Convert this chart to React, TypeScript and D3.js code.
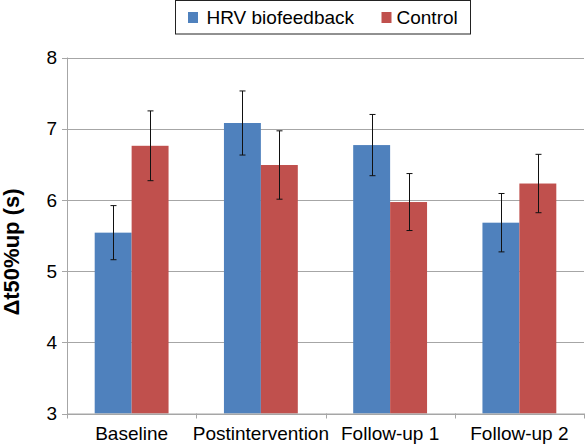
import React from "react";
import * as d3 from "d3";

const categories = ["Baseline", "Postintervention", "Follow-up 1", "Follow-up 2"];
const seriesNames = ["HRV biofeedback", "Control"];
const hrvValues = [5.54, 7.08, 6.77, 5.68];
const hrvErrors = [0.38, 0.45, 0.43, 0.41];
const controlValues = [6.76, 6.49, 5.97, 6.23];
const controlErrors = [0.49, 0.48, 0.4, 0.41];
const yTicks = [3, 4, 5, 6, 7, 8];
const colors = ["#4F81BD", "#C0504D"];

const W = 586;
const H = 444;
const left = 67;
const right = 584;
const top = 57.5;
const bottom = 413.5;
const FONT = "'Liberation Sans', Arial, sans-serif";

export default function App() {
  const x0 = d3.scaleBand<string>().domain(categories).range([left, right]).padding(0);
  const x1 = d3
    .scaleBand<string>()
    .domain(seriesNames)
    .range([0, x0.bandwidth()])
    .paddingInner(0)
    .paddingOuter(0.75);
  const y = d3.scaleLinear().domain([3, 8]).range([bottom, top]);

  const series = [
    { name: seriesNames[0], values: hrvValues, errors: hrvErrors, color: colors[0] },
    { name: seriesNames[1], values: controlValues, errors: controlErrors, color: colors[1] },
  ];

  const boundaries = [...categories.map((c) => x0(c)!), right];

  return (
    <svg
      width={W}
      height={H}
      style={{ position: "absolute", left: 0, top: 0, background: "#fff" }}
      fontFamily={FONT}
    >
      <rect x={0} y={0} width={W} height={H} fill="#fff" />
      {yTicks.map((t) => (
        <line key={"g" + t} x1={left} x2={right} y1={Math.round(y(t)) + 0.5} y2={Math.round(y(t)) + 0.5} stroke="#a6a6a6" strokeWidth={1} />
      ))}
      <line x1={left + 0.5} x2={left + 0.5} y1={top} y2={bottom + 0.5} stroke="#a6a6a6" />
      {yTicks.map((t) => (
        <g key={"yt" + t}>
          <line x1={left - 5} x2={left} y1={Math.round(y(t)) + 0.5} y2={Math.round(y(t)) + 0.5} stroke="#a6a6a6" />
          <text x={57} y={y(t)} dy="0.35em" textAnchor="end" fontSize={19} fill="#000">
            {t}
          </text>
        </g>
      ))}
      {series.map((s) =>
        categories.map((c, i) => {
          const bx = x0(c)! + x1(s.name)!;
          return (
            <rect
              key={s.name + c}
              x={bx}
              y={y(s.values[i])}
              width={x1.bandwidth()}
              height={bottom - y(s.values[i])}
              fill={s.color}
            />
          );
        })
      )}
      <line x1={left} x2={right} y1={bottom + 0.5} y2={bottom + 0.5} stroke="#a6a6a6" />
      {boundaries.map((bx, i) => (
        <line key={"xt" + i} x1={Math.round(bx) + 0.5} x2={Math.round(bx) + 0.5} y1={bottom} y2={bottom + 5} stroke="#a6a6a6" />
      ))}
      {series.map((s) =>
        categories.map((c, i) => {
          const cx = Math.round(x0(c)! + x1(s.name)! + x1.bandwidth() / 2) + 0.5;
          const yt = y(s.values[i] + s.errors[i]);
          const yb = y(s.values[i] - s.errors[i]);
          return (
            <g key={"e" + s.name + c} stroke="#111" strokeWidth={1}>
              <line x1={cx} x2={cx} y1={yt} y2={yb} />
              <line x1={cx - 3} x2={cx + 3} y1={yt} y2={yt} />
              <line x1={cx - 3} x2={cx + 3} y1={yb} y2={yb} />
            </g>
          );
        })
      )}
      {categories.map((c) => (
        <text key={"xl" + c} x={x0(c)! + x0.bandwidth() / 2} y={440} textAnchor="middle" fontSize={19} fill="#000">
          {c}
        </text>
      ))}
      <text
        transform={`translate(19,252) rotate(-90)`}
        textAnchor="middle"
        fontSize={22}
        fontWeight="bold"
        fill="#000"
      >
        Δt50%up (s)
      </text>
      <rect x={175.5} y={0.5} width={295} height={33.5} fill="#fff" stroke="#222" strokeWidth={1} />
      <rect x={188} y={12} width={10} height={11} fill={colors[0]} />
      <text x={206.5} y={24} fontSize={19} fill="#000">
        {seriesNames[0]}
      </text>
      <rect x={381.5} y={12} width={10} height={11} fill={colors[1]} />
      <text x={396.5} y={24} fontSize={19} fill="#000">
        {seriesNames[1]}
      </text>
    </svg>
  );
}
